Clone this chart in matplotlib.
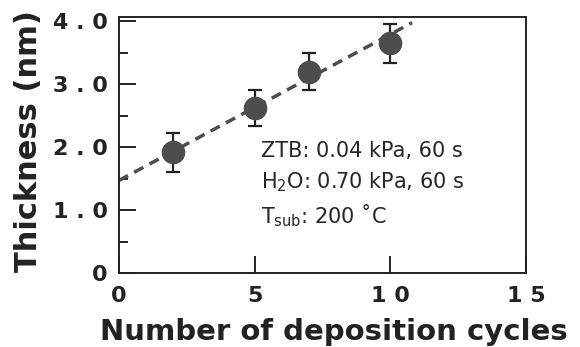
import matplotlib
matplotlib.use('Agg')
import matplotlib.pyplot as plt
import numpy as np

# Data
cycles = [2, 5, 7, 10]
thickness = [1.92, 2.62, 3.20, 3.66]
err_low = [0.31, 0.29, 0.30, 0.32]
err_high = [0.30, 0.29, 0.29, 0.29]

# Linear fit drawn as dashed line
fit_x = [0.0, 10.8]
fit_intercept = 1.47
fit_slope = 0.232

x_ticks = [0, 5, 10, 15]
x_ticklabels = ['0', '5', '1 0', '1 5']
y_ticks = [0, 1, 2, 3, 4]
y_ticklabels = ['0', '1 . 0', '2 . 0', '3 . 0', '4 . 0']

conditions = ['ZTB: 0.04 kPa, 60 s',
              'H$_2$O: 0.70 kPa, 60 s',
              'T$_{\\mathrm{sub}}$: 200 \u02daC']
cond_y = [1.84, 1.34, 0.79]

plt.rcParams['font.family'] = ['DejaVu Sans']
plt.rcParams['mathtext.fontset'] = 'dejavusans'

fig = plt.figure(figsize=(5.8, 3.47), dpi=100)
ax = fig.add_axes([0.205, 0.213, 0.702, 0.737])

gray = '#4d4d4d'
fx = np.array(fit_x)
ax.plot(fx, fit_intercept + fit_slope * fx, color=gray, lw=2.5,
        dashes=(3, 2), zorder=2)
ax.errorbar(cycles, thickness, yerr=[err_low, err_high], fmt='o',
            color=gray, ms=16, mec=gray, ecolor='#222222', elinewidth=1.6,
            capsize=5, capthick=1.6, zorder=3)

for txt, yy in zip(conditions, cond_y):
    ax.text(5.23, yy, txt, fontsize=15, color='#262626', va='baseline')

ax.set_xlim(0, 15)
ax.set_ylim(0, 4.06)
ax.set_xticks(x_ticks)
ax.set_xticklabels(x_ticklabels)
ax.set_yticks(y_ticks)
ax.set_yticklabels(y_ticklabels)
ax.set_yticks([0.5, 1.5, 2.5, 3.5], minor=True)

ax.tick_params(axis='both', which='major', direction='in', length=12,
               width=1.4, labelsize=16, colors='#222222')
ax.tick_params(axis='y', which='major', pad=8)
ax.tick_params(axis='x', which='major', pad=9)
ax.tick_params(axis='y', which='minor', direction='in', length=6.5, width=1.4,
               color='#222222')
for lab in ax.get_xticklabels() + ax.get_yticklabels():
    lab.set_fontweight('bold')

for sp in ax.spines.values():
    sp.set_linewidth(1.4)
    sp.set_color('#222222')

ax.set_xlabel('Number of deposition cycles', fontsize=21, fontweight='bold',
              color='#222222')
ax.set_ylabel('Thickness (nm)', fontsize=22, fontweight='bold',
              color='#222222')
ax.xaxis.set_label_coords(0.529, -0.176)
ax.yaxis.set_label_coords(-0.187, 0.515)

plt.savefig('out.png', dpi=100)
